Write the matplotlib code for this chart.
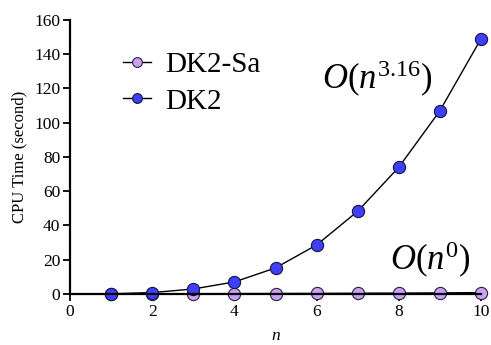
import matplotlib
matplotlib.use("Agg")
import matplotlib.pyplot as plt

n_values = [1, 2, 3, 4, 5, 6, 7, 8, 9, 10]
dk2_sa = [0.05, 0.1, 0.15, 0.2, 0.25, 0.3, 0.4, 0.5, 0.6, 0.8]
dk2 = [0.1, 0.8, 2.9, 7.0, 15.2, 28.6, 48.3, 74.0, 107.0, 149.0]

xticks = [0, 2, 4, 6, 8, 10]
yticks = [0, 20, 40, 60, 80, 100, 120, 140, 160]

plt.rcParams["font.family"] = ["Liberation Serif", "DejaVu Serif"]
plt.rcParams["mathtext.fontset"] = "custom"
plt.rcParams["mathtext.rm"] = "Liberation Serif"
plt.rcParams["mathtext.it"] = "Liberation Serif:italic"

fig = plt.figure(figsize=(4.91, 3.45), dpi=100)
ax = fig.add_axes([0.1426, 0.148, 0.837, 0.794])

ax.plot(n_values, dk2_sa, "-o", color="black", lw=1.0, ms=8.8,
        mfc="#c9a0f2", mec="#2a2040", mew=0.8, label="DK2-Sa", clip_on=False)
ax.plot(n_values, dk2, "-o", color="black", lw=1.0, ms=8.8,
        mfc="#3f3ff7", mec="#14144a", mew=0.8, label="DK2", clip_on=False)

ax.set_xlim(0, 10)
ax.set_ylim(0, 160)
ax.set_xticks(xticks)
ax.set_yticks(yticks)
ax.tick_params(labelsize=12.5, length=5, width=1.3, direction="out", pad=2)
for side in ["top", "right"]:
    ax.spines[side].set_visible(False)
ax.spines["left"].set_linewidth(1.6)
ax.spines["bottom"].set_linewidth(1.6)

ax.set_xlabel("$n$", fontsize=12.5, labelpad=6)
ax.set_ylabel("CPU Time (second)", fontsize=12, labelpad=5)

ax.text(0.613, 0.748, r"$O(n^{3.16})$", transform=ax.transAxes,
        fontsize=25, va="baseline")
ax.text(0.779, 0.088, r"$O(n^{0})$", transform=ax.transAxes,
        fontsize=25, va="baseline")

ax.legend(loc="upper left", bbox_to_anchor=(0.129, 0.885), frameon=False,
          fontsize=21, handlelength=0.95, handletextpad=0.5, labelspacing=0.35,
          borderpad=0, borderaxespad=0, markerscale=0.8)

fig.savefig("out.png", dpi=100)
